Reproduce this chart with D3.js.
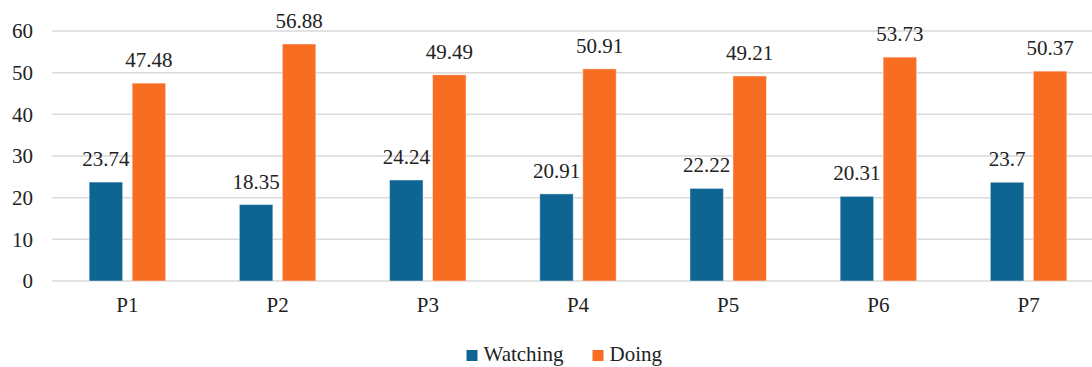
<!DOCTYPE html>
<html>
<head>
<meta charset="utf-8">
<script src="https://cdn.jsdelivr.net/npm/d3@7"></script>
<style>
  html, body { margin: 0; padding: 0; background: #fff; }
  svg { display: block; }
</style>
</head>
<body>
<svg id="chart" width="1092" height="367"></svg>
<script>
// Groups along the x axis
const categories = ["P1", "P2", "P3", "P4", "P5", "P6", "P7"];
// Series names and their values per group
const seriesNames = ["Watching", "Doing"];
const watching = [23.74, 18.35, 24.24, 20.91, 22.22, 20.31, 23.7];
const doing = [47.48, 56.88, 49.49, 50.91, 49.21, 53.73, 50.37];
// Value axis ticks
const yTicks = [0, 10, 20, 30, 40, 50, 60];

const colors = { Watching: "#0e6591", Doing: "#f76d22" };
const FONT = '"Liberation Serif", "Times New Roman", serif';
const TEXT_COLOR = "#222";

const rows = categories.map((c, i) => ({ cat: c, Watching: watching[i], Doing: doing[i] }));

const svg = d3.select("#chart");
const plot = { left: 52.3, right: 1103.7, top: 31, bottom: 281 };

const y = d3.scaleLinear().domain([0, 60]).range([plot.bottom, plot.top]);
const x0 = d3.scaleBand().domain(categories).range([plot.left, plot.right]).paddingInner(0).paddingOuter(0);
const pairW = 76.5;
const x1 = d3.scaleBand().domain(seriesNames).range([-pairW / 2, pairW / 2]).paddingInner(9.5 / 43).paddingOuter(0);

function styleText(sel) {
  return sel
    .style("font-family", FONT)
    .style("font-size", "21px")
    .style("fill", TEXT_COLOR);
}

// Horizontal gridlines
svg.append("g")
  .selectAll("line")
  .data(yTicks)
  .join("line")
  .attr("x1", plot.left)
  .attr("x2", 1092)
  .attr("y1", d => y(d))
  .attr("y2", d => y(d))
  .attr("stroke", "#d9d9d9")
  .attr("stroke-width", 1.5);

// Y axis labels
const yAxis = d3.axisLeft(y).tickValues(yTicks).tickSize(0).tickPadding(0).tickFormat(d3.format("d"));
const yG = svg.append("g").attr("transform", "translate(33,0)").call(yAxis);
yG.select(".domain").remove();
styleText(yG.selectAll("text")).attr("dy", "0.32em");

// X axis labels
const xAxis = d3.axisBottom(x0).tickSize(0).tickPadding(0);
const xG = svg.append("g").attr("transform", `translate(0,${plot.bottom})`).call(xAxis);
xG.select(".domain").remove();
styleText(xG.selectAll("text")).attr("y", 31).attr("dy", 0);

// Bars
const groups = svg.append("g")
  .selectAll("g")
  .data(rows)
  .join("g")
  .attr("transform", d => `translate(${x0(d.cat) + x0.bandwidth() / 2},0)`);

groups.selectAll("rect")
  .data(d => seriesNames.map(s => ({ s, v: d[s] })))
  .join("rect")
  .attr("x", d => x1(d.s))
  .attr("width", x1.bandwidth())
  .attr("y", d => y(d.v))
  .attr("height", d => y(0) - y(d.v))
  .attr("fill", d => colors[d.s])
  .attr("stroke", "#ffffff")
  .attr("stroke-opacity", 0.45)
  .attr("stroke-width", 1);

// Value labels above each bar
styleText(groups.selectAll("text.val")
  .data(d => seriesNames.map(s => ({ s, v: d[s] })))
  .join("text")
  .attr("class", "val")
  .attr("x", d => x1(d.s) + x1.bandwidth() / 2)
  .attr("y", d => y(d.v) - 16)
  .attr("text-anchor", "middle")
  .text(d => d.v));

// Legend
const legend = svg.append("g").attr("transform", "translate(0,361)");
const legendItems = [
  { s: "Watching", x: 466.5 },
  { s: "Doing", x: 592.5 }
];
const li = legend.selectAll("g").data(legendItems).join("g")
  .attr("transform", d => `translate(${d.x},0)`);
li.append("rect")
  .attr("x", 0).attr("y", -11)
  .attr("width", 11).attr("height", 11)
  .attr("fill", d => colors[d.s]);
styleText(li.append("text")
  .attr("x", 17).attr("y", 0)
  .text(d => d.s));
</script>
</body>
</html>
